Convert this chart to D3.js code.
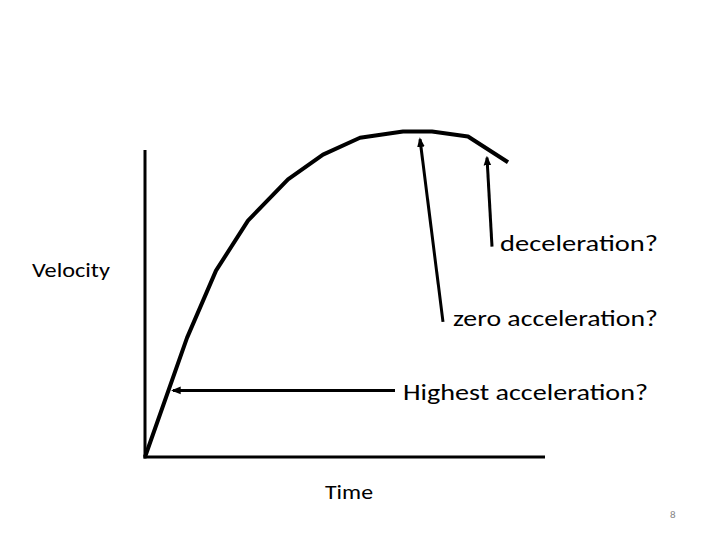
<!DOCTYPE html>
<html><head><meta charset="utf-8">
<script src="https://cdn.jsdelivr.net/npm/d3@7"></script>
<style>html,body{margin:0;padding:0;background:#fff}</style>
</head><body>
<svg id="c" width="720" height="540"></svg>
<script>
const time =     [0, 1.05, 1.775, 2.575, 3.575, 4.45, 5.375, 6.45, 7.175, 8.075, 9.075];
const velocity = [0, 3.88, 6.07, 7.7, 9.04, 9.85, 10.4, 10.6, 10.6, 10.44, 9.6];
const arrowLabels = ["zero acceleration?", "deceleration?", "Highest acceleration?"];
const arrowTailT = [7.45, 8.675, 6.25];
const arrowTailV = [4.4, 6.85, 2.17];
const arrowHeadT = [6.875, 8.55, 0.7];
const arrowHeadV = [10.35, 9.75, 2.17];
const axisLabels = ["Velocity", "Time"];
const pageNumber = "8";

const svg = d3.select("#c");
const x = d3.scaleLinear().domain([0, 10]).range([145, 545]);
const y = d3.scaleLinear().domain([0, 10]).range([457, 150]);
const font = "Calibri, Carlito, Lato, 'Open Sans', sans-serif";

// axes
svg.append("line").attr("x1", x(0)).attr("x2", x(0)).attr("y1", y(0)+1.5).attr("y2", y(10))
  .attr("stroke", "#000").attr("stroke-width", 3);
svg.append("line").attr("x1", x(0)-1.5).attr("x2", x(10)).attr("y1", y(0)).attr("y2", y(0))
  .attr("stroke", "#000").attr("stroke-width", 3);

// curve
const line = d3.line().x((d, i) => x(time[i])).y((d, i) => y(velocity[i]));
svg.append("path").attr("d", line(time)).attr("fill", "none")
  .attr("stroke", "#000").attr("stroke-width", 4).attr("stroke-linejoin", "round");

// arrows
svg.append("defs").append("marker").attr("id", "ah")
  .attr("viewBox", "0 0 10 10").attr("refX", 8).attr("refY", 5)
  .attr("markerWidth", 3.2).attr("markerHeight", 3.2).attr("orient", "auto")
  .append("path").attr("d", "M0,1 L10,5 L0,9 Z").attr("fill", "#000");
arrowLabels.forEach((lab, i) => {
  svg.append("line")
    .attr("x1", x(arrowTailT[i])).attr("y1", y(arrowTailV[i]))
    .attr("x2", x(arrowHeadT[i])).attr("y2", y(arrowHeadV[i]))
    .attr("stroke", "#000").attr("stroke-width", 3).attr("marker-end", "url(#ah)");
});

// annotation texts
const txt = [
  {t: arrowLabels[0], x: 453, y: 326, w: 205},
  {t: arrowLabels[1], x: 500, y: 251, w: 158},
  {t: arrowLabels[2], x: 403, y: 400, w: 245}
];
txt.forEach(d => {
  svg.append("text").attr("x", d.x).attr("y", d.y).text(d.t)
    .attr("font-family", font).attr("font-size", 23).attr("fill", "#000")
    .attr("textLength", d.w).attr("lengthAdjust", "spacingAndGlyphs");
});
svg.append("text").attr("x", 32).attr("y", 277).text(axisLabels[0])
  .attr("font-family", font).attr("font-size", 20).attr("fill", "#000")
  .attr("textLength", 78).attr("lengthAdjust", "spacingAndGlyphs");
svg.append("text").attr("x", 325).attr("y", 499).text(axisLabels[1])
  .attr("font-family", font).attr("font-size", 20).attr("fill", "#000")
  .attr("textLength", 48).attr("lengthAdjust", "spacingAndGlyphs");
svg.append("text").attr("x", 670).attr("y", 518).text(pageNumber)
  .attr("font-family", font).attr("font-size", 11).attr("fill", "#888");
</script>
</body></html>
